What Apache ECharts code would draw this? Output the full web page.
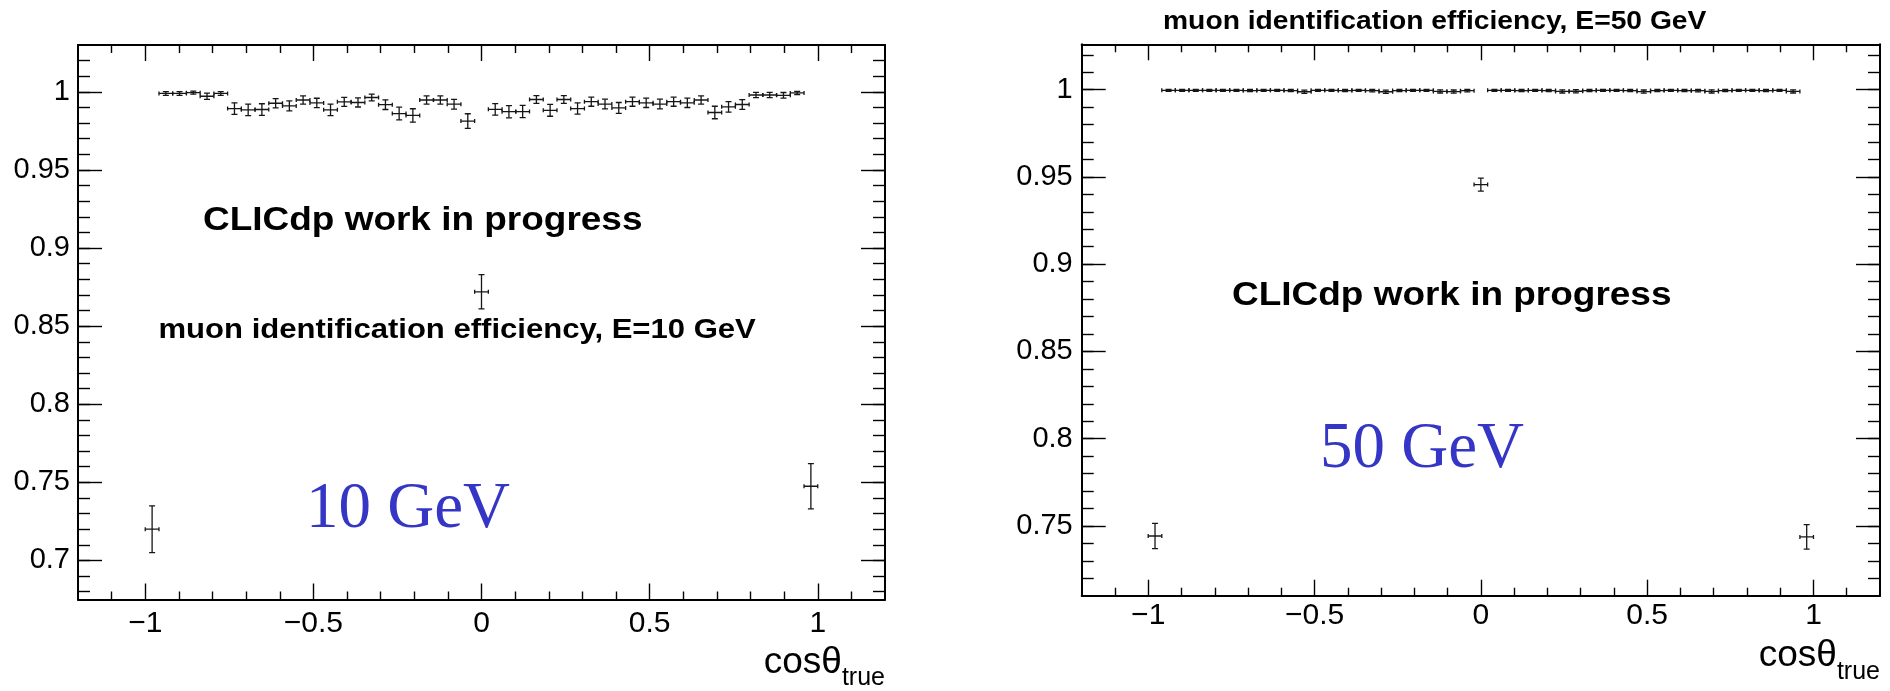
<!DOCTYPE html>
<html><head><meta charset="utf-8">
<script src="https://cdn.jsdelivr.net/npm/echarts@6/dist/echarts.min.js"></script>
<style>html,body{margin:0;padding:0;background:#fff}#c{width:1890px;height:691px}</style>
</head><body><div id="c"></div>
<script>
// ---- data ----
const binCenters = [-0.9796,-0.9388,-0.8980,-0.8571,-0.8163,-0.7755,-0.7347,-0.6939,-0.6531,-0.6122,
  -0.5714,-0.5306,-0.4898,-0.4490,-0.4082,-0.3673,-0.3265,-0.2857,-0.2449,-0.2041,
  -0.1633,-0.1224,-0.0816,-0.0408,0,0.0408,0.0816,0.1224,0.1633,0.2041,
  0.2449,0.2857,0.3265,0.3673,0.4082,0.4490,0.4898,0.5306,0.5714,0.6122,
  0.6531,0.6939,0.7347,0.7755,0.8163,0.8571,0.8980,0.9388,0.9796];
const binHalfWidth = 0.0204;

const eff10 = [0.720,0.9990,0.9990,0.9995,0.9972,0.9990,0.9893,0.9885,0.9887,0.9927,
  0.9910,0.9948,0.9929,0.9885,0.9936,0.9932,0.9964,0.9918,0.9861,0.9849,
  0.9948,0.9948,0.9921,0.9813,0.872,0.9888,0.9873,0.9874,0.9951,0.9882,
  0.9951,0.9893,0.9937,0.9922,0.9897,0.9937,0.9930,0.9922,0.9937,0.9930,
  0.9948,0.9868,0.9904,0.9919,0.9980,0.9980,0.9978,0.9993,0.7475];
const err10 = [0.015,0.0012,0.0012,0.0010,0.0020,0.0012,0.0037,0.0037,0.0037,0.0030,
  0.0032,0.0026,0.0030,0.0037,0.0029,0.0029,0.0022,0.0031,0.0041,0.0043,
  0.0026,0.0026,0.0031,0.0047,0.011,0.0037,0.0039,0.0039,0.0025,0.0038,
  0.0025,0.0036,0.0029,0.0031,0.0035,0.0029,0.0030,0.0031,0.0029,0.0030,
  0.0026,0.0040,0.0034,0.0031,0.0017,0.0017,0.0018,0.0010,0.0145];

const eff50 = [0.7442,0.9996,0.9996,0.9996,0.9996,0.9996,0.9996,0.9995,0.9996,0.9996,
  0.9995,0.9988,0.9996,0.9996,0.9995,0.9996,0.9994,0.9988,0.9995,0.9996,
  0.9996,0.9990,0.9989,0.9994,0.9456,0.9996,0.9996,0.9995,0.9996,0.9995,
  0.9990,0.9991,0.9995,0.9996,0.9996,0.9995,0.9989,0.9995,0.9996,0.9995,
  0.9994,0.9990,0.9995,0.9996,0.9996,0.9995,0.9996,0.9990,0.7437];
const err50 = [0.0072,0.0006,0.0006,0.0006,0.0006,0.0006,0.0006,0.0006,0.0006,0.0006,
  0.0006,0.0009,0.0006,0.0006,0.0006,0.0006,0.0007,0.0009,0.0006,0.0006,
  0.0006,0.0009,0.0009,0.0007,0.0037,0.0006,0.0006,0.0006,0.0006,0.0006,
  0.0009,0.0009,0.0006,0.0006,0.0006,0.0006,0.0009,0.0006,0.0006,0.0006,
  0.0007,0.0009,0.0006,0.0006,0.0006,0.0006,0.0006,0.0009,0.0070];

// ---- ticks & labels ----
const xMajorTicks = [-1,-0.5,0,0.5,1];
const xTickLabels = ['\u22121','\u22120.5','0','0.5','1'];
const xMinorTicks = [-1.1,-0.9,-0.8,-0.7,-0.6,-0.4,-0.3,-0.2,-0.1,0.1,0.2,0.3,0.4,0.6,0.7,0.8,0.9,1.1];
const yMajor10 = [0.7,0.75,0.8,0.85,0.9,0.95,1];
const yLabels10 = ['0.7','0.75','0.8','0.85','0.9','0.95','1'];
const yMajor50 = [0.75,0.8,0.85,0.9,0.95,1];
const yLabels50 = ['0.75','0.8','0.85','0.9','0.95','1'];
const yRange10 = [0.675, 1.03];
const yRange50 = [0.71, 1.026];
const xRange = [-1.2, 1.2];

// ---- texts ----
const txtWIP = 'CLICdp work in progress';
const txtTitle10 = 'muon identification efficiency, E=10 GeV';
const txtTitle50 = 'muon identification efficiency, E=50 GeV';
const txtE10 = '10 GeV';
const txtE50 = '50 GeV';
const xTitleMain = 'cos\u03b8';
const xTitleSub = 'true';

function minorSteps(a, b) { const out = []; for (let v = Math.round(a*100); v <= Math.round(b*100); v++) out.push(v/100); return out; }
const yMinor10 = minorSteps(0.68, 1.02);
const yMinor50 = minorSteps(0.72, 1.02);

function lookup(vals, labels) {
  return v => { const i = vals.findIndex(t => Math.abs(t - v) < 1e-6); return i >= 0 ? labels[i] : ''; };
}

const BLACK = '#000';
const tickStyle = {color: BLACK, width: 1.4};
const lineStyleAx = {color: BLACK, width: 2};
const xLabelFont = {color: BLACK, fontFamily: 'Liberation Sans', fontSize: 30};
const yLabelFont = {color: BLACK, fontFamily: 'Liberation Sans', fontSize: 29};

function makeXAxes(g, labelMargin, nameTop) {
  const base = {gridIndex: g, type: 'value', min: xRange[0], max: xRange[1], splitLine: {show: false},
    axisLine: {show: false, onZero: false}, axisLabel: {show: false}};
  return [
    Object.assign({}, base, {position: 'bottom',
      axisLine: {show: true, onZero: false, lineStyle: lineStyleAx},
      axisTick: {show: true, inside: true, length: 16, lineStyle: tickStyle, customValues: xMajorTicks},
      axisLabel: Object.assign({show: true, margin: labelMargin, customValues: xMajorTicks,
        formatter: lookup(xMajorTicks, xTickLabels)}, xLabelFont),
      name: '{m|' + xTitleMain + '}{s|' + xTitleSub + '}',
      nameLocation: 'end', nameGap: 0, nameMoveOverlap: false,
      nameTextStyle: {align: 'right', verticalAlign: 'top', padding: [nameTop, 0, 0, 0],
        rich: {m: {fontSize: 37, lineHeight: 40, fontFamily: 'Liberation Sans', color: BLACK},
               s: {fontSize: 25, lineHeight: 26, fontFamily: 'Liberation Sans', color: BLACK, padding: [32, 0, 0, 0]}}}
    }),
    Object.assign({}, base, {position: 'bottom',
      axisTick: {show: true, inside: true, length: 8, lineStyle: tickStyle, customValues: xMinorTicks}}),
    Object.assign({}, base, {position: 'top',
      axisLine: {show: true, onZero: false, lineStyle: lineStyleAx},
      axisTick: {show: true, inside: true, length: 16, lineStyle: tickStyle, customValues: xMajorTicks}}),
    Object.assign({}, base, {position: 'top',
      axisTick: {show: true, inside: true, length: 8, lineStyle: tickStyle, customValues: xMinorTicks}})
  ];
}
function makeYAxes(g, range, major, labels, minor, labelMargin) {
  const base = {gridIndex: g, type: 'value', min: range[0], max: range[1], splitLine: {show: false},
    axisLine: {show: false, onZero: false}, axisLabel: {show: false}};
  return [
    Object.assign({}, base, {position: 'left',
      axisLine: {show: true, onZero: false, lineStyle: lineStyleAx},
      axisTick: {show: true, inside: true, length: 24, lineStyle: tickStyle, customValues: major},
      axisLabel: Object.assign({show: true, margin: labelMargin, customValues: major,
        formatter: lookup(major, labels)}, yLabelFont)}),
    Object.assign({}, base, {position: 'left',
      axisTick: {show: true, inside: true, length: 12, lineStyle: tickStyle, customValues: minor}}),
    Object.assign({}, base, {position: 'right',
      axisLine: {show: true, onZero: false, lineStyle: lineStyleAx},
      axisTick: {show: true, inside: true, length: 24, lineStyle: tickStyle, customValues: major}}),
    Object.assign({}, base, {position: 'right',
      axisTick: {show: true, inside: true, length: 12, lineStyle: tickStyle, customValues: minor}})
  ];
}

function renderErr(params, api) {
  const x = api.value(0), y = api.value(1), ey = api.value(2), ex = api.value(3);
  const c = api.coord([x, y]);
  const l = api.coord([x - ex, y]), r = api.coord([x + ex, y]);
  const t = api.coord([x, y + ey]), b = api.coord([x, y - ey]);
  const st = {stroke: '#161616', lineWidth: 1.3, fill: null};
  const capV = 2, capH = 3;
  const ln = (x1, y1, x2, y2) => ({type: 'line', shape: {x1, y1, x2, y2}, style: st});
  return {type: 'group', children: [
    ln(l[0], c[1], r[0], c[1]),
    ln(c[0], t[1], c[0], b[1]),
    ln(l[0], c[1] - capV, l[0], c[1] + capV),
    ln(r[0], c[1] - capV, r[0], c[1] + capV),
    ln(c[0] - capH, t[1], c[0] + capH, t[1]),
    ln(c[0] - capH, b[1], c[0] + capH, b[1])
  ]};
}

const data10 = binCenters.map((x, i) => [x, eff10[i], err10[i], binHalfWidth]);
const data50 = binCenters.map((x, i) => [x, eff50[i], err50[i], binHalfWidth]);

const BLUE = '#3535c6';
function txt(x, y, text, font, fill, sx) {
  return {type: 'text', x: x, y: y, scaleX: sx, silent: true,
    style: {text: text, font: font, fill: fill, align: 'left', verticalAlign: 'middle'}};
}

const option = {
  animation: false,
  backgroundColor: '#fff',
  grid: [
    {left: 78, top: 45, width: 807, height: 556.7, containLabel: false},
    {left: 1081.7, top: 44.3, width: 798.3, height: 551.4, containLabel: false}
  ],
  xAxis: makeXAxes(0, 9, 43).concat(makeXAxes(1, 5, 40)),
  yAxis: makeYAxes(0, yRange10, yMajor10, yLabels10, yMinor10, 8)
    .concat(makeYAxes(1, yRange50, yMajor50, yLabels50, yMinor50, 9)),
  series: [
    {type: 'custom', name: 'E=10 GeV', xAxisIndex: 0, yAxisIndex: 0, renderItem: renderErr,
     encode: {x: 0, y: 1}, data: data10, clip: true},
    {type: 'custom', name: 'E=50 GeV', xAxisIndex: 4, yAxisIndex: 4, renderItem: renderErr,
     encode: {x: 0, y: 1}, data: data50, clip: true}
  ],
  graphic: [
    txt(203, 220.5, txtWIP, 'bold 33px "Liberation Sans"', BLACK, 1.12),
    txt(158.5, 331, txtTitle10, 'bold 27px "Liberation Sans"', BLACK, 1.15),
    txt(306, 510, txtE10, '65px "Liberation Serif"', BLUE, 1),
    txt(1163, 22, txtTitle50, 'bold 25px "Liberation Sans"', BLACK, 1.13),
    txt(1232, 296, txtWIP, 'bold 33px "Liberation Sans"', BLACK, 1.12),
    txt(1320, 450, txtE50, '65px "Liberation Serif"', BLUE, 1)
  ]
};
const chart = echarts.init(document.getElementById('c'), null, {renderer: 'canvas'});
chart.setOption(option);
</script></body></html>
